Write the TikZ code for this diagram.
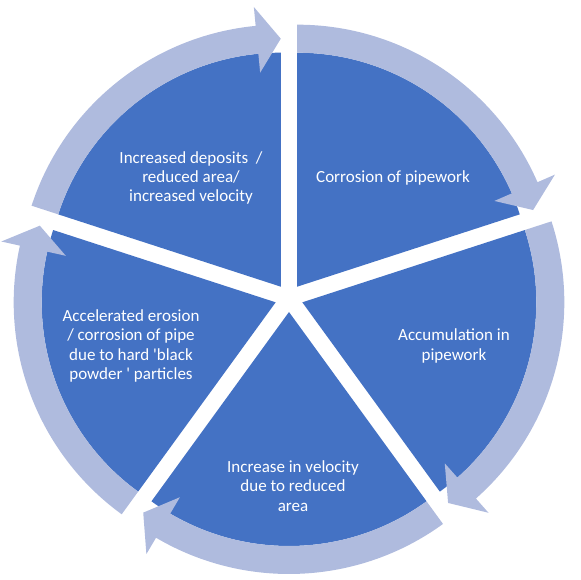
\documentclass[tikz,border=0pt]{standalone}
\usepackage{fontspec}
\setmainfont{Carlito}[Ligatures=TeXOff]
\usetikzlibrary{calc}
\definecolor{cblue}{HTML}{4472C4}
\definecolor{clight}{HTML}{AFBBDE}
\tikzset{
  segwedge/.style={fill=cblue},
  segarrow/.style={fill=clight},
  seglabel/.style={text=white, align=center, inner sep=0pt,
                   font=\fontsize{17}{19.3}\selectfont},
}
\begin{document}
\begin{tikzpicture}[x=1pt, y=1pt]
  \useasboundingbox (-289,-282) rectangle (292,298);

  % Segments
  \foreach \s/\e/\m in {90/18/54, 18/-54/-18, -54/-126/-90, -126/-198/-162, -198/-270/-234}
    \fill[segwedge, shift={(\m:14)}] (0,0) -- (\s:234pt) arc[start angle=\s, end angle=\e, radius=234pt] -- cycle;

  % Circular arrows
  \foreach \s/\e/\b/\m in {90/18/23.5/54, 18/-54/-48.5/-18, -54/-126/-120.5/-90, -126/-198/-192.5/-162, -198/-270/-264.5/-234}
    \fill[segarrow, shift={(\m:14)}] (\s:234pt) -- (\s:262pt)
      arc[start angle=\s, end angle=\b, radius=262pt] -- (\b:281pt) -- (\e:248pt) -- (\b:215pt) -- (\b:234pt)
      arc[start angle=\b, end angle=\s, radius=234pt] -- cycle;

  % Labels
  \node[seglabel] (deposits) at (-98,120) {Increased deposits~~/\\reduced area/\\increased velocity};
  \node[seglabel] (corrosion) at (104,120) {Corrosion of pipework};
  \node[seglabel] (accum) at (165,-48) {Accumulation in\\pipework};
  \node[seglabel] (velocity) at (4,-188) {Increase in velocity\\due to reduced\\area};
  \node[seglabel] (erosion) at (-158,-48) {Accelerated erosion\\/ corrosion of pipe\\due to hard 'black\\powder ' particles};
\end{tikzpicture}
\end{document}
